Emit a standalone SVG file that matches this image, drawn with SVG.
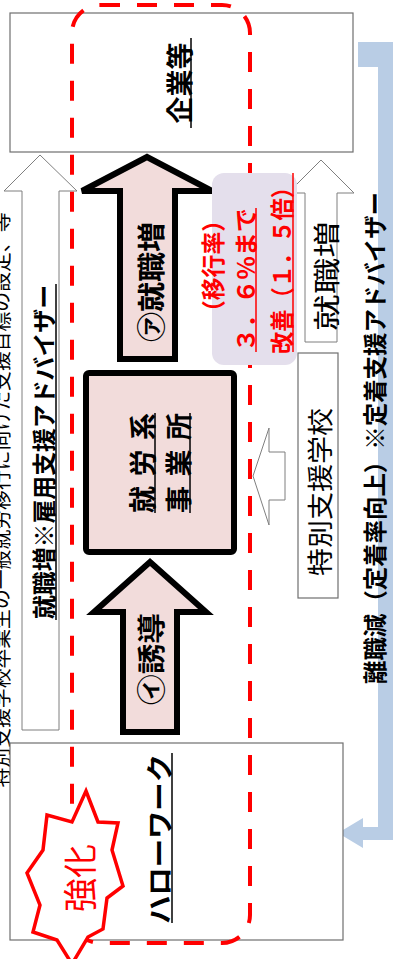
<svg xmlns="http://www.w3.org/2000/svg" width="393" height="959" viewBox="0 0 393 959">
<style>
text{font-family:"Noto Sans CJK JP","Noto Sans CJK SC",sans-serif;text-anchor:middle;dominant-baseline:central;fill:#000}
.b{font-weight:700}
.box{fill:#fff;stroke:#6f6f6f;stroke-width:1.2}
.hollow{fill:#fff;stroke:#7f7f7f;stroke-width:1}
.pink{fill:#F2DCDB;stroke:#000;stroke-width:6;stroke-linejoin:miter}
.ul{stroke:#000;stroke-width:1.5}
.red{fill:#FF0000}
.rul{stroke:#FF0000;stroke-width:1.5}
</style>
<rect width="393" height="959" fill="#fff"/>
<text transform="translate(0,500) rotate(-90)" font-size="20" textLength="575" lengthAdjust="spacingAndGlyphs">特別支援学校卒業生の一般就労移行に向けた支援目標の設定、等</text>

<g id="connectors">
  <g id="arrow-left-hollow">
    <polygon class="hollow" points="40,155 77,191 59,191 59,730 22,730 22,191 4,191"/>
    <g transform="translate(42,452) rotate(-90)"><text class="b" font-size="24" textLength="334" lengthAdjust="spacingAndGlyphs">就職増※雇用支援アドバイザー</text><line class="ul" x1="-168" y1="14" x2="168" y2="14"/></g>
  </g>
  <g id="arrow-a">
    <polygon class="pink" points="147,157 212,191 175,191 175,359 120,359 120,191 82,191"/>
    <text class="b" transform="translate(150,282) rotate(-90)" font-size="28" textLength="120" lengthAdjust="spacingAndGlyphs">㋐就職増</text>
  </g>
  <g id="arrow-i">
    <polygon class="pink" points="150,562 206,612 177,612 177,732 123,732 123,612 94,612"/>
    <text class="b" transform="translate(150,659) rotate(-90)" font-size="28" textLength="92" lengthAdjust="spacingAndGlyphs">㋑誘導</text>
  </g>
  <g id="arrow-right-hollow">
    <polygon class="hollow" points="321,160 354,193 337,193 337,342 305,342 305,193 288,193"/>
    <text transform="translate(325,276) rotate(-90)" font-size="27" textLength="110" lengthAdjust="spacingAndGlyphs">就職増</text>
  </g>
  <polygon id="arrow-small" class="hollow" points="253,476 269,428 269,452 285,452 285,500 269,500 269,525"/>
  <g id="arrow-blue">
    <polygon fill="#B9CDE5" points="358,42 400,42 400,840 363,840 363,848 338,833 363,818 363,827 378,827 378,67 358,67"/>
    <text class="b" transform="translate(373,438) rotate(-90)" font-size="24" textLength="492" lengthAdjust="spacingAndGlyphs">離職減（定着率向上）※定着支援アドバイザー</text>
  </g>
</g>

<g id="kigyo">
  <rect class="box" x="10" y="13" width="343" height="139" fill-opacity="0"/>
  <g transform="translate(178,83) rotate(-90)"><text class="b" font-size="27">企業等</text><line class="ul" x1="-45" y1="13" x2="45" y2="13"/></g>
</g>

<g id="shuro">
  <rect class="pink" x="86" y="373" width="148" height="179" rx="3"/>
  <g transform="translate(141,463) rotate(-90)"><text class="b" font-size="27" textLength="100" lengthAdjust="spacing">就労系</text><line class="ul" x1="-50" y1="14" x2="50" y2="14"/></g>
  <g transform="translate(177,463) rotate(-90)"><text class="b" font-size="27" textLength="100" lengthAdjust="spacing">事業所</text><line class="ul" x1="-50" y1="13" x2="50" y2="13"/></g>
</g>

<g id="tokubetsu">
  <rect class="box" x="298" y="353" width="40" height="245"/>
  <text transform="translate(318,492) rotate(-90)" font-size="26" textLength="168" lengthAdjust="spacingAndGlyphs">特別支援学校</text>
</g>

<g id="hellowork">
  <rect class="box" x="10" y="743" width="333" height="197"/>
  <g transform="translate(158,839) rotate(-90)"><text class="b" font-size="27" textLength="170" lengthAdjust="spacingAndGlyphs">ハローワーク</text><line class="ul" x1="-84" y1="14" x2="86" y2="14"/></g>
</g>

<rect id="enclosure" x="72" y="5" width="178" height="938" rx="28" fill="none" stroke="#FF0000" stroke-width="4" stroke-dasharray="20 17"/>

<g id="note">
  <rect x="212" y="173" width="85" height="192" rx="12" fill="#E4DFEC"/>
  <text class="b red" transform="translate(211,266) rotate(-90)" font-size="24" textLength="114" lengthAdjust="spacingAndGlyphs">（移行率）</text>
  <g transform="translate(244,280) rotate(-90)"><text class="b red" font-size="24" textLength="144" lengthAdjust="spacingAndGlyphs">３．６%まで</text><line class="rul" x1="-72" y1="12" x2="72" y2="12"/></g>
  <g transform="translate(280,265) rotate(-90)"><text class="b red" font-size="24" textLength="178" lengthAdjust="spacingAndGlyphs">改善（１．５倍）</text><line class="rul" x1="-87" y1="13" x2="92" y2="13"/></g>
</g>

<g id="kyoka">
  <polygon fill="#fff" stroke="#FF0000" stroke-width="3.5" stroke-linejoin="miter" points="86,791 98,822 118,823 112,850 123,886 107,898 103,929 88,937 72,964 57,940 33,932 40,905 27,873 43,850 47,815 72,822"/>
  <text class="red" transform="translate(78,878) rotate(-90)" font-size="34">強化</text>
</g>
</svg>
